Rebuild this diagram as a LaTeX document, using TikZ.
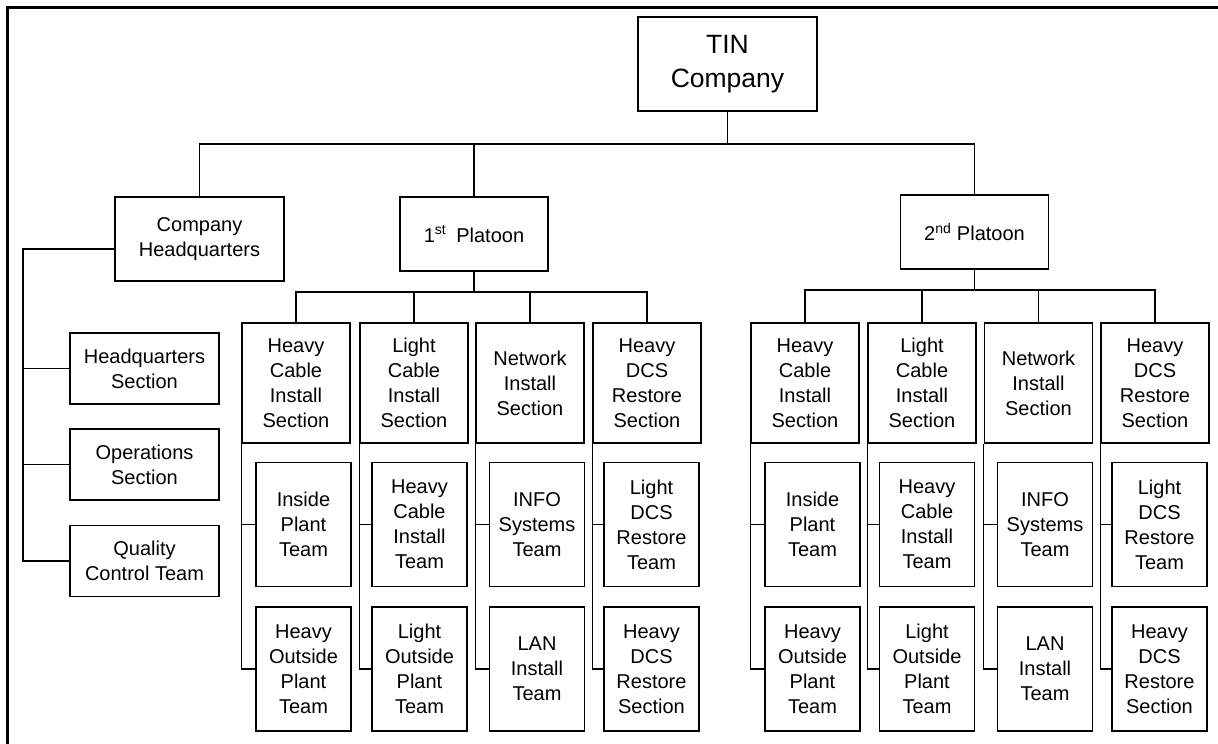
\documentclass[tikz,border=0pt]{standalone}
\usepackage{fontspec}
\setmainfont{Liberation Sans}
\usetikzlibrary{positioning}

\tikzset{
    unitbox/.style={draw, line width=1.6pt, align=center, inner sep=0pt,
        font=\fontsize{20}{25}\selectfont},
    topbox/.style={unitbox, minimum width=179pt, minimum height=94pt,
        font=\fontsize{26.5}{34}\selectfont},
    platbox/.style={unitbox, minimum width=148pt, minimum height=74pt},
    hqbox/.style={unitbox, minimum width=149pt, minimum height=71pt},
    secbox/.style={unitbox, minimum width=108pt, minimum height=120pt},
    teambox/.style={unitbox, minimum width=95pt, minimum height=124pt},
    link/.style={line width=1.2pt}
}

\begin{document}
\begin{tikzpicture}[x=1pt,y=-1pt]
                \useasboundingbox (0,0) rectangle (1218,744);
                \draw[line width=3pt] (7,744) -- (7,7) -- (1218,7);

                % company and platoons
                \node[topbox] (tin) at (727.5,64) {TIN\\Company};
                \node[unitbox, minimum width=169pt, minimum height=84pt] (chq) at (199.5,239) {Company\\Headquarters};
                \node[platbox] (p1) at (474,234) {1\textsuperscript{st}\enspace Platoon};
                \node[platbox] (p2) at (974.5,232) {2\textsuperscript{nd} Platoon};

                \coordinate (b0) at (727.5,144);
                \draw[link] (tin) -- (b0);
                \draw[link] (chq.north) |- (b0) -| (p2.north);
                \draw[link] (p1.north) -- (p1.north |- b0);

                % headquarters
                \node[hqbox] (hqs) at (144.5,368.5) {Headquarters\\Section};
                \node[hqbox] (ops) at (144.5,464.5) {Operations\\Section};
                \node[hqbox] (qct) at (144.5,561) {Quality\\Control Team};

                \coordinate (hqbar) at (23,249);
                \draw[link] (hqbar -| chq.west) -- (hqbar) |- (qct.west);
                \draw[link] (hqbar |- hqs.west) -- (hqs.west);
                \draw[link] (hqbar |- ops.west) -- (ops.west);

                % 1st platoon
                \node[secbox] (s1a) at (296,383) {Heavy\\Cable\\Install\\Section};
                \node[secbox] (s1b) at (414,383) {Light\\Cable\\Install\\Section};
                \node[secbox] (s1c) at (530,383) {Network\\Install\\Section};
                \node[secbox] (s1d) at (647,383) {Heavy\\DCS\\Restore\\Section};

                \node[teambox] (t1a1) at (303.5,524.5) {Inside\\Plant\\Team};
                \node[teambox] (t1a2) at (303.5,669) {Heavy\\Outside\\Plant\\Team};
                \node[teambox] (t1b1) at (419.5,524.5) {Heavy\\Cable\\Install\\Team};
                \node[teambox] (t1b2) at (419.5,669) {Light\\Outside\\Plant\\Team};
                \node[teambox] (t1c1) at (537,524.5) {INFO\\Systems\\Team};
                \node[teambox] (t1c2) at (537,669) {LAN\\Install\\Team};
                \node[teambox] (t1d1) at (651.5,524.5) {Light\\DCS\\Restore\\Team};
                \node[teambox] (t1d2) at (651.5,669) {Heavy\\DCS\\Restore\\Section};

                \coordinate (b1) at (474,292);
                \draw[link] (p1) -- (b1);
                \draw[link] (s1a.north) |- (b1) -| (s1d.north);
                \draw[link] (s1b.north) -- (s1b.north |- b1);
                \draw[link] (s1c.north) -- (s1c.north |- b1);

                \draw[link] (s1a.south west) |- (t1a2.west);
                \draw[link] (s1a.south west |- t1a1.west) -- (t1a1.west);
                \draw[link] (s1b.south west) |- (t1b2.west);
                \draw[link] (s1b.south west |- t1b1.west) -- (t1b1.west);
                \draw[link] (s1c.south west) |- (t1c2.west);
                \draw[link] (s1c.south west |- t1c1.west) -- (t1c1.west);
                \draw[link] (s1d.south west) |- (t1d2.west);
                \draw[link] (s1d.south west |- t1d1.west) -- (t1d1.west);

                % 2nd platoon
                \node[secbox] (s2a) at (805,383) {Heavy\\Cable\\Install\\Section};
                \node[secbox] (s2b) at (922,383) {Light\\Cable\\Install\\Section};
                \node[secbox] (s2c) at (1038.5,383) {Network\\Install\\Section};
                \node[secbox] (s2d) at (1155,383) {Heavy\\DCS\\Restore\\Section};

                \node[teambox] (t2a1) at (812.5,524.5) {Inside\\Plant\\Team};
                \node[teambox] (t2a2) at (812.5,669) {Heavy\\Outside\\Plant\\Team};
                \node[teambox] (t2b1) at (927,524.5) {Heavy\\Cable\\Install\\Team};
                \node[teambox] (t2b2) at (927,669) {Light\\Outside\\Plant\\Team};
                \node[teambox] (t2c1) at (1045,524.5) {INFO\\Systems\\Team};
                \node[teambox] (t2c2) at (1045,669) {LAN\\Install\\Team};
                \node[teambox] (t2d1) at (1159.5,524.5) {Light\\DCS\\Restore\\Team};
                \node[teambox] (t2d2) at (1159.5,669) {Heavy\\DCS\\Restore\\Section};

                \coordinate (b2) at (974.5,290);
                \draw[link] (p2) -- (b2);
                \draw[link] (s2a.north) |- (b2) -| (s2d.north);
                \draw[link] (s2b.north) -- (s2b.north |- b2);
                \draw[link] (s2c.north) -- (s2c.north |- b2);

                \draw[link] (s2a.south west) |- (t2a2.west);
                \draw[link] (s2a.south west |- t2a1.west) -- (t2a1.west);
                \draw[link] (s2b.south west) |- (t2b2.west);
                \draw[link] (s2b.south west |- t2b1.west) -- (t2b1.west);
                \draw[link] (s2c.south west) |- (t2c2.west);
                \draw[link] (s2c.south west |- t2c1.west) -- (t2c1.west);
                \draw[link] (s2d.south west) |- (t2d2.west);
                \draw[link] (s2d.south west |- t2d1.west) -- (t2d1.west);
\end{tikzpicture}
\end{document}
